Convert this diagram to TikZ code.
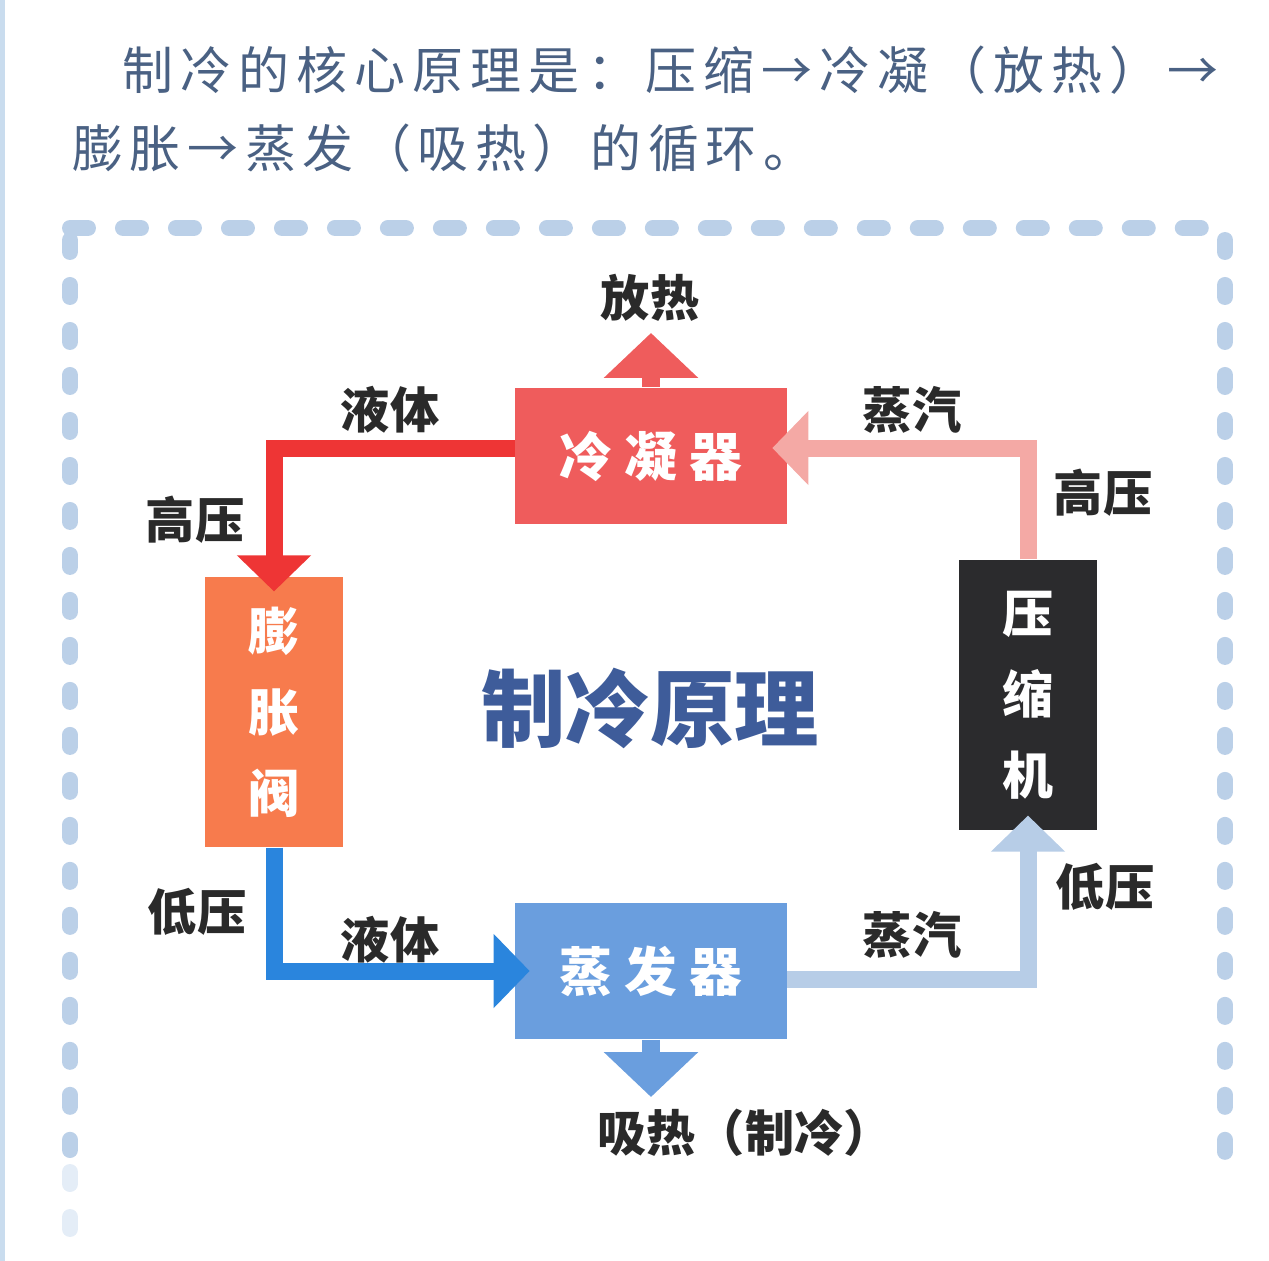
\documentclass[tikz,border=0pt]{standalone}
\usepackage{fontspec}
\setmainfont{Noto Sans CJK SC}
\usetikzlibrary{arrows.meta, positioning}

\definecolor{introgray}{HTML}{4A6183}
\definecolor{framecol}{HTML}{BBD0E8}
\definecolor{framefaint}{HTML}{E4EDF7}
\definecolor{edgecol}{HTML}{C9DCEE}
\definecolor{condred}{HTML}{EF5C5C}
\definecolor{valveorange}{HTML}{F77B4D}
\definecolor{compdark}{HTML}{2B2B2D}
\definecolor{evapblue}{HTML}{6A9EDE}
\definecolor{liqred}{HTML}{EE3535}
\definecolor{liqblue}{HTML}{2A85DD}
\definecolor{vappink}{HTML}{F4A9A5}
\definecolor{vapblue}{HTML}{B7CDE7}
\definecolor{titleblue}{HTML}{3E5C9A}
\definecolor{labelcol}{HTML}{2A2A2A}

\begin{document}
\begin{tikzpicture}[x=0.02cm, y=-0.02cm,
  unit/.style={rectangle, inner sep=0pt, text=white, font=\bfseries\fontsize{30}{36}\selectfont},
  wide/.style={unit, minimum width=5.44cm, minimum height=2.74cm},
  tall/.style={unit, minimum width=2.77cm, minimum height=5.41cm, align=center, font=\bfseries\fontsize{29}{46}\selectfont},
  lbl/.style={text=labelcol, font=\bfseries\fontsize{28}{34}\selectfont},
  pipe/.style={line width=0.34cm, -{Triangle[width=1.44cm,length=0.72cm]}},
  vent/.style={line width=0.36cm, -{Triangle[width=1.84cm,length=0.9cm]}},
  hdash/.style={draw=framecol, line width=0.32cm, line cap=round, dash pattern=on 0.36cm off 0.7cm},
  vdash/.style={draw=framecol, line width=0.32cm, line cap=round, dash pattern=on 0.24cm off 0.66cm}]
  \useasboundingbox (0,0) rectangle (1269,1261);
  \fill[edgecol] (0,0) rectangle (5,1261);

  % Intro text
  \node[anchor=west, inner sep=0pt, text=introgray, font=\fontsize{29}{34}\selectfont\addfontfeature{LetterSpace=14}] (intro1) at (122,70) {制冷的核心原理是：压缩→冷凝（放热）→};
  \node[anchor=west, inner sep=0pt, text=introgray, font=\fontsize{29}{34}\selectfont\addfontfeature{LetterSpace=13}] (intro2) at (72,148) {膨胀→蒸发（吸热）的循环。};

  % Frame
  \draw[hdash] (70,228) -- (1225,228);
  \draw[vdash] (70,240) -- (70,1150);
  \draw[vdash] (1225,240) -- (1225,1175);
  \draw[vdash, draw=framefaint] (70,1172) -- (70,1230);

  % Nodes
  \node[wide, fill=condred] (cond) at (651,456) {冷 凝 器};
  \node[wide, fill=evapblue] (evap) at (651,971) {蒸 发 器};
  \node[tall, fill=valveorange] (valve) at (274,712) {膨\\胀\\阀};
  \node[tall, fill=compdark] (comp) at (1028,695) {压\\缩\\机};
  \node[font=\bfseries\fontsize{48}{56}\selectfont, text=titleblue] (title) at (650,708) {制冷原理};

  % Labels
  \node[lbl] (heat) at (650,298) {放热};
  \node[lbl] (cool) at (745,1133) {吸热（制冷）};
  \node[lbl] (liq1) at (390,410) {液体};
  \node[lbl] (vap1) at (912,410) {蒸汽};
  \node[lbl] (hp1) at (195,520) {高压};
  \node[lbl] (hp2) at (1103,493) {高压};
  \node[lbl] (lp1) at (197,912) {低压};
  \node[lbl] (liq2) at (390,940) {液体};
  \node[lbl] (vap2) at (912,935) {蒸汽};
  \node[lbl] (lp2) at (1105,887) {低压};
  \coordinate (heattip) at (651,333);
  \coordinate (cooltip) at (651,1097);

  % Connections
  \draw[pipe, draw=liqred] ([yshift=0.16cm]cond.west) -| ([yshift=-0.3cm]valve.north);
  \draw[pipe, draw=liqblue] (valve.south) |- ([xshift=0.3cm]evap.west);
  \draw[pipe, draw=vapblue] ([yshift=-0.16cm]evap.east) -| ([yshift=0.3cm]comp.south);
  \draw[pipe, draw=vappink] (comp.north) |- ([xshift=-0.3cm, yshift=0.16cm]cond.east);
  \draw[vent, draw=condred] (cond.north) -- (heattip);
  \draw[vent, draw=evapblue] (evap.south) -- (cooltip);
\end{tikzpicture}
\end{document}
